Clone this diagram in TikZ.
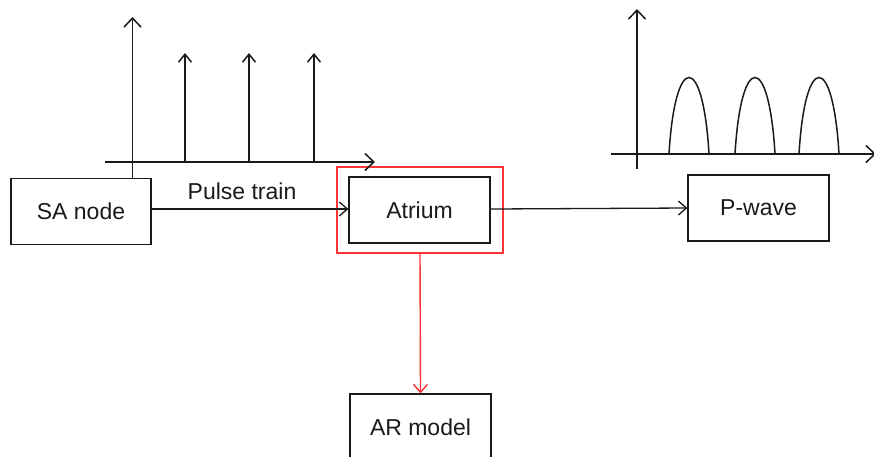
\documentclass[tikz,border=0pt]{standalone}
\usepackage{fontspec}
\setmainfont{Liberation Sans}
\usetikzlibrary{arrows.meta}
\definecolor{ink}{HTML}{1A1A1A}
\definecolor{hl}{HTML}{FF3333}
\tikzset{
  blockbox/.style={draw=ink, line width=1.3pt, minimum width=140pt, minimum height=66pt,
    inner sep=0pt, font=\fontsize{23}{27}\selectfont, text=ink},
  flow/.style={draw=ink, line width=1.3pt, -{Straight Barb[length=8pt,width=14pt,line width=1.3pt]}},
  axis/.style={draw=ink, line width=1.5pt, -{Straight Barb[length=9pt,width=17pt,line width=1.5pt]}},
  spike/.style={draw=ink, line width=1.5pt, -{Straight Barb[length=8pt,width=13pt,line width=1.5pt]}},
  wave/.style={draw=ink, line width=1.5pt}
}
\begin{document}
\begin{tikzpicture}[x=1pt,y=-1pt]
\clip (0,0) rectangle (874,456);
\fill[white] (0,0) rectangle (874,456);

% blocks
\node[blockbox] (sa) at (81,211.5) {SA node};
\node[blockbox, minimum width=141pt] (atrium) at (419.5,210) {Atrium};
\node[draw=hl, line width=1.4pt, minimum width=166pt, minimum height=86pt, inner sep=0pt] (focus) at (420,210) {};
\node[blockbox, minimum width=141pt] (pwave) at (758.5,208) {P-wave};
\node[blockbox, minimum width=141pt] (ar) at (420.5,427) {AR model};

% connectors
\draw[flow] (sa.east |- 0,209) -- (atrium.west |- 0,209);
\node[font=\fontsize{23}{27}\selectfont, text=ink] (lbl) at (242,191) {Pulse train};
\draw[flow] (atrium.east |- 0,209) -- (pwave.west |- 0,208);
\draw[flow, draw=hl, line width=1.4pt, -{Straight Barb[length=8pt,width=14pt,line width=1.4pt]}, color=hl] (focus.south) -- (ar.north);

% pulse train sketch
\coordinate (pto) at (132.5,162);
\draw[axis] (sa.north -| pto) -- (132.5,17);
\draw[axis] (105,162) -- (375,162);
\foreach \px in {185,249,314}
  \draw[spike] (\px,162) -- (\px,53);

% P-wave sketch
\draw[axis] (637,169) -- (637,9);
\draw[axis] (611,154) -- (876,154);
\foreach \bx in {669,735,799}
  \draw[wave] (\bx,154) .. controls (\bx+6,52) and (\bx+34,52) .. (\bx+40,154);
\end{tikzpicture}
\end{document}
